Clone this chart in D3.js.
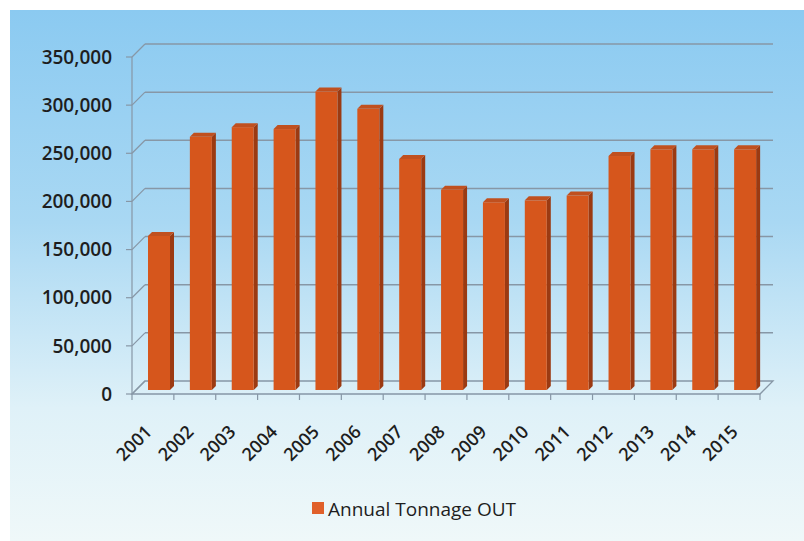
<!DOCTYPE html>
<html><head><meta charset="utf-8">
<script src="https://cdn.jsdelivr.net/npm/d3@7"></script>
<style>html,body{margin:0;padding:0;background:#fff;}svg{display:block;}</style>
</head><body>
<svg id="c" width="804" height="541"></svg>
<script>
const years = ["2001","2002","2003","2004","2005","2006","2007","2008","2009","2010","2011","2012","2013","2014","2015"];
const tonnage = [160000,263000,273000,271000,310000,292000,240000,208000,195000,197000,202000,243000,250000,250000,250000];
const yTicks = [0,50000,100000,150000,200000,250000,300000,350000];
const seriesName = "Annual Tonnage OUT";

const svg = d3.select("#c");
const defs = svg.append("defs");
const g1 = defs.append("linearGradient").attr("id","bg").attr("x1",0).attr("y1",0).attr("x2",0).attr("y2",1);
g1.append("stop").attr("offset","0%").attr("stop-color","#8bcaf1");
g1.append("stop").attr("offset","40%").attr("stop-color","#a9d8f3");
g1.append("stop").attr("offset","75%").attr("stop-color","#dff1f8");
g1.append("stop").attr("offset","100%").attr("stop-color","#eff8f9");
svg.append("rect").attr("x",10).attr("y",10).attr("width",794).attr("height",531).attr("fill","url(#bg)");

const DX = 13, DY = 13;
const yBack = d3.scaleLinear().domain([0,350000]).range([381,44]);
const yFront = v => yBack(v) + DY;
const x = d3.scaleBand().domain(years).range([132,760]).padding(0);

const grid = "#8797a6";
svg.append("path")
  .attr("d", `M${x.range()[0]},${yFront(0)} L${x.range()[1]},${yFront(0)} L${x.range()[1]+DX},${yBack(0)} L${x.range()[0]+DX},${yBack(0)} Z`)
  .attr("fill","none").attr("stroke",grid).attr("stroke-width",1.3);
yTicks.forEach(t => {
  if (t > 0) svg.append("line").attr("x1",x.range()[0]+DX).attr("x2",x.range()[1]+DX)
     .attr("y1",yBack(t)).attr("y2",yBack(t)).attr("stroke",grid).attr("stroke-width",1.5);
  svg.append("line").attr("x1",x.range()[0]).attr("x2",x.range()[0]+DX)
     .attr("y1",yFront(t)).attr("y2",yBack(t)).attr("stroke",grid).attr("stroke-width",1.2);
  svg.append("line").attr("x1",x.range()[0]-6).attr("x2",x.range()[0])
     .attr("y1",yFront(t)).attr("y2",yFront(t)).attr("stroke",grid).attr("stroke-width",1.2);
});
svg.append("line").attr("x1",x.range()[0]).attr("x2",x.range()[0])
  .attr("y1",yFront(350000)).attr("y2",yFront(0)).attr("stroke",grid).attr("stroke-width",1.2);
years.concat(["end"]).forEach((yv,i) => {
  const xx = x.range()[0] + i*x.bandwidth();
  svg.append("line").attr("x1",xx).attr("x2",xx).attr("y1",yFront(0)).attr("y2",yFront(0)+6)
    .attr("stroke",grid).attr("stroke-width",1.2);
});

const bd = 4, bw = 22, off = 16;
const bars = svg.append("g");
years.forEach((yr,i) => {
  const v = tonnage[i];
  const x0 = x(yr) + off;
  const yb = yFront(0) - bd;
  const yt = yFront(v) - bd;
  bars.append("path").attr("d",`M${x0+bw},${yt} L${x0+bw+bd},${yt-bd} L${x0+bw+bd},${yb-bd} L${x0+bw},${yb} Z`)
    .attr("fill","#9b3a12");
  bars.append("path").attr("d",`M${x0},${yt} L${x0+bd},${yt-bd} L${x0+bw+bd},${yt-bd} L${x0+bw},${yt} Z`)
    .attr("fill","#c0501f");
  bars.append("rect").attr("x",x0).attr("y",yt).attr("width",bw).attr("height",yb-yt).attr("fill","#d6561c");
});

const font = "'Open Sans', sans-serif";
svg.append("g").selectAll("text").data(yTicks).join("text")
  .attr("x",112).attr("y",d=>yFront(d)).attr("dy","0.35em")
  .attr("text-anchor","end").attr("font-family",font).attr("font-size",19).attr("font-weight",600)
  .attr("fill","#1e1e1e").text(d=>d3.format(",")(d));

svg.append("g").selectAll("text").data(years).join("text")
  .attr("transform",d=>`translate(${x(d)+x.bandwidth()/2},${yFront(0)+39}) rotate(-45)`)
  .attr("text-anchor","end").attr("font-family",font).attr("font-size",18).attr("font-weight",600)
  .attr("fill","#1e1e1e").text(d=>d);

svg.append("rect").attr("x",312).attr("y",502).attr("width",12).attr("height",12).attr("fill","#e0602a");
svg.append("text").attr("x",328).attr("y",516).attr("font-family",font).attr("font-size",19).attr("font-weight",500)
  .attr("fill","#1e1e1e").text(seriesName);
</script>
</body></html>
